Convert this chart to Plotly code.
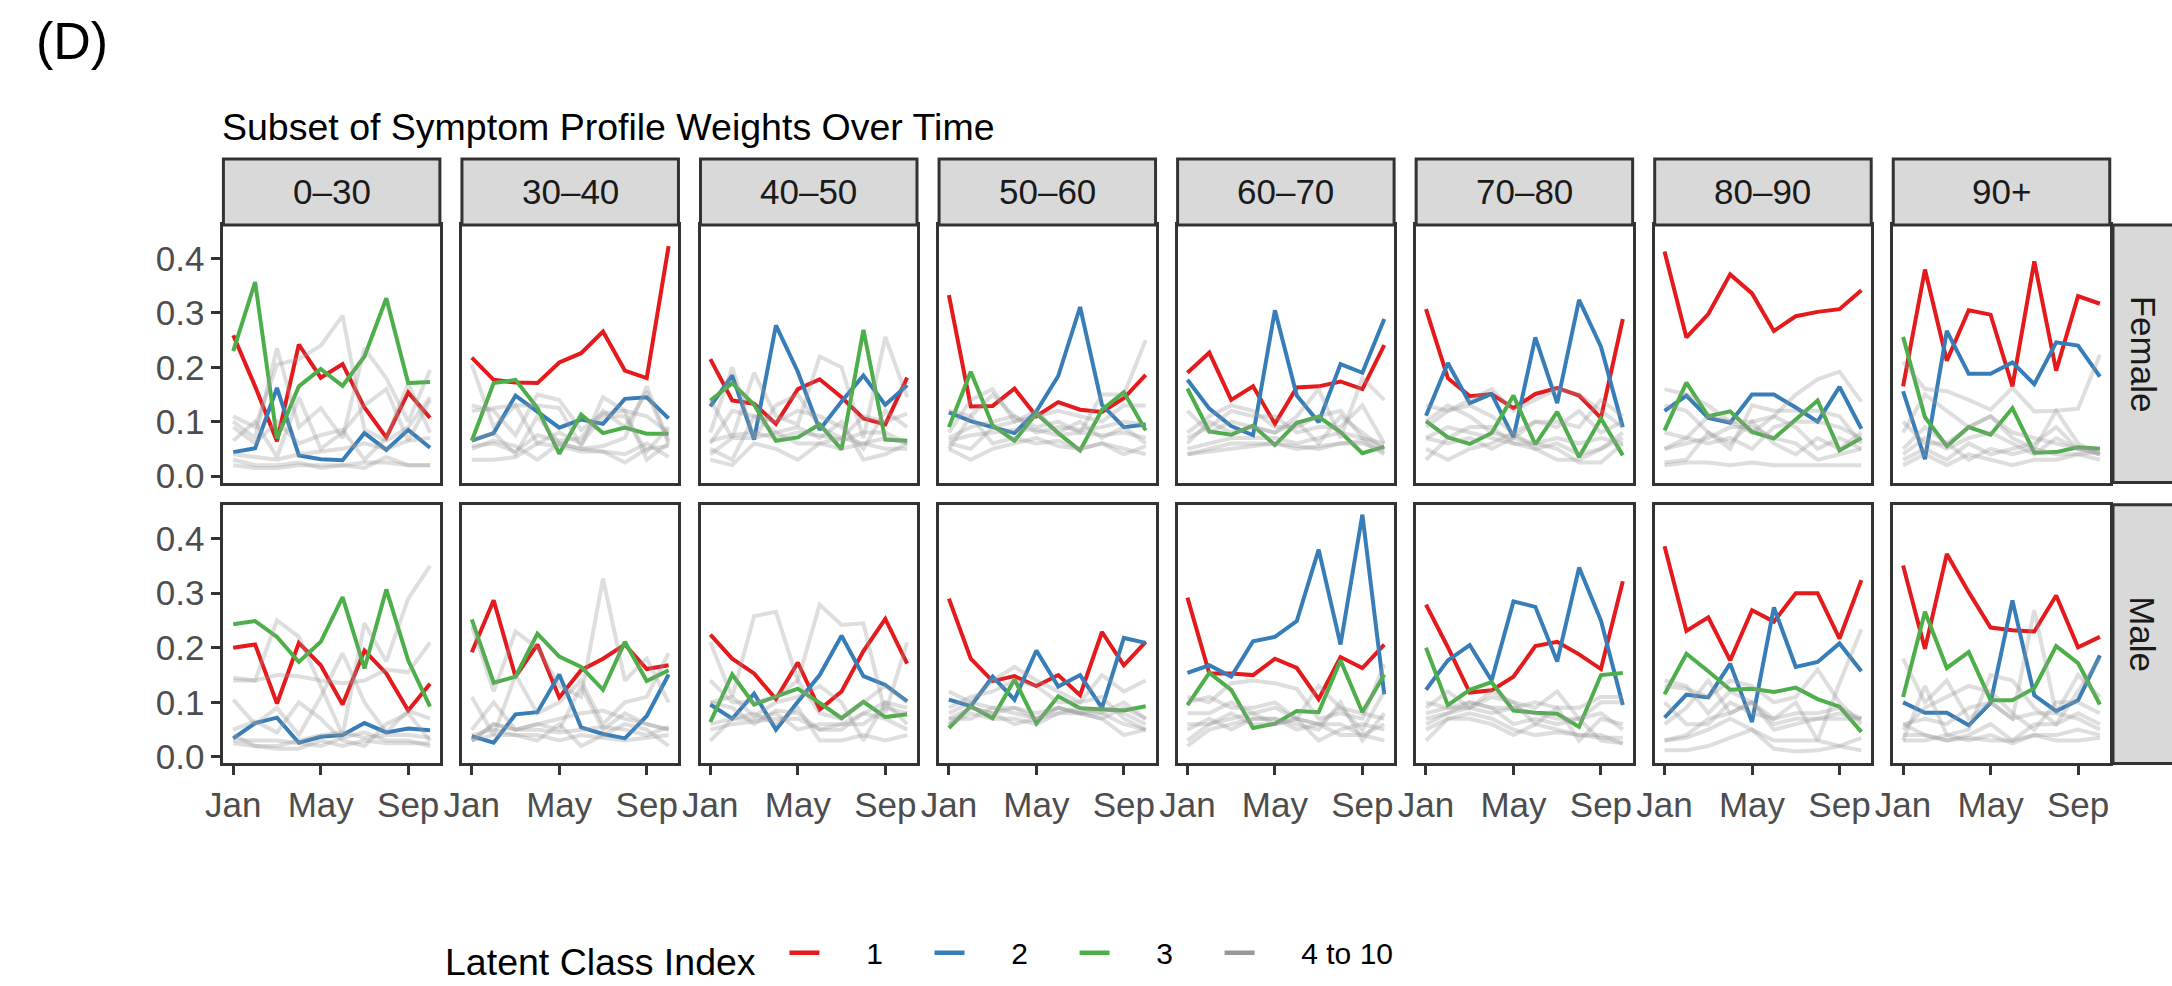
import plotly.graph_objects as go

# ---------------- data ----------------
months = list(range(10))            # Jan .. Oct
month_tickvals = [0, 4, 8]
month_ticktext = ["Jan", "May", "Sep"]
age_groups = ["0–30", "30–40", "40–50", "50–60", "60–70", "70–80", "80–90", "90+"]
sexes = ["Female", "Male"]
y_tickvals = [0.0, 0.1, 0.2, 0.3, 0.4]
legend_labels = ["1", "2", "3", "4 to 10"]

class1_female = [
    [0.259, 0.165, 0.064, 0.242, 0.181, 0.206, 0.126, 0.071, 0.154, 0.107],
    [0.218, 0.177, 0.172, 0.171, 0.209, 0.226, 0.266, 0.194, 0.180, 0.423],
    [0.215, 0.139, 0.133, 0.096, 0.160, 0.178, 0.145, 0.106, 0.095, 0.181],
    [0.333, 0.128, 0.129, 0.161, 0.110, 0.136, 0.122, 0.118, 0.143, 0.186],
    [0.190, 0.227, 0.140, 0.165, 0.096, 0.163, 0.165, 0.174, 0.160, 0.241],
    [0.307, 0.180, 0.147, 0.151, 0.125, 0.151, 0.162, 0.148, 0.107, 0.289],
    [0.413, 0.255, 0.298, 0.371, 0.336, 0.267, 0.294, 0.302, 0.307, 0.342],
    [0.165, 0.380, 0.212, 0.305, 0.297, 0.165, 0.395, 0.194, 0.331, 0.317],
]
class2_female = [
    [0.044, 0.051, 0.162, 0.038, 0.031, 0.029, 0.079, 0.048, 0.085, 0.052],
    [0.065, 0.079, 0.148, 0.119, 0.089, 0.104, 0.096, 0.142, 0.145, 0.106],
    [0.128, 0.185, 0.067, 0.277, 0.192, 0.085, 0.137, 0.185, 0.131, 0.167],
    [0.117, 0.101, 0.090, 0.079, 0.119, 0.184, 0.311, 0.131, 0.090, 0.095],
    [0.177, 0.124, 0.092, 0.075, 0.305, 0.148, 0.099, 0.206, 0.190, 0.289],
    [0.111, 0.208, 0.134, 0.151, 0.071, 0.255, 0.134, 0.324, 0.238, 0.090],
    [0.120, 0.148, 0.107, 0.098, 0.150, 0.150, 0.126, 0.100, 0.164, 0.087],
    [0.156, 0.031, 0.267, 0.188, 0.188, 0.209, 0.169, 0.246, 0.240, 0.183],
]
class3_female = [
    [0.230, 0.357, 0.069, 0.165, 0.197, 0.166, 0.220, 0.327, 0.171, 0.173],
    [0.065, 0.171, 0.177, 0.125, 0.041, 0.113, 0.079, 0.089, 0.078, 0.078],
    [0.139, 0.171, 0.131, 0.065, 0.071, 0.095, 0.049, 0.269, 0.067, 0.065],
    [0.090, 0.192, 0.093, 0.065, 0.115, 0.079, 0.047, 0.122, 0.154, 0.084],
    [0.161, 0.082, 0.076, 0.093, 0.057, 0.098, 0.109, 0.081, 0.042, 0.054],
    [0.101, 0.071, 0.059, 0.079, 0.148, 0.058, 0.118, 0.035, 0.106, 0.038],
    [0.084, 0.172, 0.110, 0.119, 0.081, 0.069, 0.104, 0.139, 0.047, 0.070],
    [0.256, 0.108, 0.055, 0.090, 0.076, 0.125, 0.043, 0.044, 0.053, 0.050],
]
class1_male = [
    [0.200, 0.206, 0.098, 0.209, 0.168, 0.096, 0.195, 0.153, 0.085, 0.134],
    [0.192, 0.287, 0.147, 0.206, 0.109, 0.159, 0.180, 0.206, 0.161, 0.168],
    [0.224, 0.180, 0.153, 0.106, 0.173, 0.087, 0.120, 0.194, 0.253, 0.171],
    [0.290, 0.180, 0.139, 0.148, 0.130, 0.150, 0.113, 0.229, 0.168, 0.211],
    [0.292, 0.153, 0.153, 0.150, 0.180, 0.163, 0.106, 0.183, 0.163, 0.206],
    [0.279, 0.201, 0.118, 0.122, 0.147, 0.203, 0.211, 0.188, 0.161, 0.322],
    [0.386, 0.231, 0.256, 0.177, 0.269, 0.248, 0.300, 0.300, 0.217, 0.324],
    [0.351, 0.198, 0.372, 0.302, 0.237, 0.232, 0.230, 0.296, 0.201, 0.220],
]
class2_male = [
    [0.034, 0.062, 0.072, 0.026, 0.037, 0.040, 0.062, 0.045, 0.052, 0.049],
    [0.038, 0.026, 0.078, 0.082, 0.151, 0.054, 0.042, 0.034, 0.075, 0.151],
    [0.096, 0.070, 0.116, 0.050, 0.101, 0.150, 0.222, 0.148, 0.132, 0.102],
    [0.105, 0.093, 0.147, 0.105, 0.195, 0.129, 0.150, 0.090, 0.218, 0.209],
    [0.154, 0.168, 0.147, 0.212, 0.220, 0.249, 0.380, 0.206, 0.444, 0.115],
    [0.123, 0.177, 0.205, 0.140, 0.285, 0.275, 0.175, 0.347, 0.250, 0.095],
    [0.072, 0.114, 0.109, 0.171, 0.064, 0.274, 0.165, 0.174, 0.208, 0.157],
    [0.100, 0.081, 0.081, 0.058, 0.099, 0.287, 0.113, 0.084, 0.104, 0.186],
]
class3_male = [
    [0.243, 0.249, 0.220, 0.174, 0.211, 0.293, 0.162, 0.307, 0.177, 0.092],
    [0.252, 0.136, 0.147, 0.226, 0.184, 0.165, 0.123, 0.211, 0.139, 0.159],
    [0.064, 0.151, 0.096, 0.110, 0.125, 0.099, 0.071, 0.101, 0.073, 0.078],
    [0.053, 0.093, 0.071, 0.142, 0.061, 0.111, 0.089, 0.087, 0.085, 0.093],
    [0.095, 0.154, 0.123, 0.053, 0.061, 0.084, 0.082, 0.177, 0.082, 0.151],
    [0.200, 0.095, 0.123, 0.137, 0.085, 0.081, 0.079, 0.055, 0.150, 0.154],
    [0.115, 0.189, 0.157, 0.123, 0.125, 0.119, 0.127, 0.106, 0.092, 0.046],
    [0.110, 0.266, 0.163, 0.192, 0.104, 0.104, 0.126, 0.203, 0.172, 0.096],
]

# classes 4..10, one list of 7 series per panel
others_female_0_30 = [
    [0.11, 0.09, 0.205, 0.215, 0.24, 0.295, 0.085, 0.065, 0.09, 0.145],
    [0.10, 0.07, 0.235, 0.09, 0.125, 0.07, 0.235, 0.18, 0.10, 0.195],
    [0.065, 0.10, 0.035, 0.145, 0.05, 0.08, 0.13, 0.16, 0.065, 0.14],
    [0.09, 0.06, 0.10, 0.06, 0.075, 0.085, 0.03, 0.07, 0.17, 0.08],
    [0.04, 0.035, 0.03, 0.04, 0.045, 0.05, 0.06, 0.05, 0.065, 0.07],
    [0.03, 0.02, 0.02, 0.025, 0.015, 0.02, 0.015, 0.035, 0.02, 0.02],
    [0.02, 0.015, 0.015, 0.02, 0.02, 0.02, 0.025, 0.025, 0.02, 0.02],
]
others_female_30_40 = [
    [0.205, 0.09, 0.13, 0.06, 0.08, 0.06, 0.11, 0.11, 0.045, 0.09],
    [0.13, 0.12, 0.075, 0.15, 0.14, 0.085, 0.115, 0.12, 0.03, 0.06],
    [0.12, 0.125, 0.13, 0.13, 0.125, 0.055, 0.145, 0.12, 0.11, 0.08],
    [0.065, 0.08, 0.04, 0.11, 0.06, 0.05, 0.055, 0.07, 0.165, 0.065],
    [0.055, 0.06, 0.045, 0.075, 0.065, 0.07, 0.12, 0.09, 0.155, 0.06],
    [0.03, 0.03, 0.035, 0.06, 0.055, 0.045, 0.045, 0.04, 0.06, 0.035],
    [0.05, 0.065, 0.055, 0.03, 0.06, 0.05, 0.045, 0.025, 0.05, 0.055],
]
others_female_40_50 = [
    [0.14, 0.07, 0.19, 0.11, 0.095, 0.22, 0.20, 0.07, 0.256, 0.145],
    [0.08, 0.20, 0.07, 0.13, 0.15, 0.09, 0.07, 0.11, 0.10, 0.115],
    [0.06, 0.12, 0.11, 0.10, 0.12, 0.11, 0.09, 0.05, 0.12, 0.09],
    [0.05, 0.03, 0.11, 0.08, 0.09, 0.07, 0.10, 0.03, 0.04, 0.06],
    [0.04, 0.07, 0.07, 0.08, 0.06, 0.06, 0.05, 0.06, 0.07, 0.06],
    [0.03, 0.02, 0.06, 0.05, 0.03, 0.06, 0.07, 0.06, 0.05, 0.05],
    [0.065, 0.075, 0.08, 0.07, 0.08, 0.075, 0.065, 0.08, 0.08, 0.06],
]
others_female_50_60 = [
    [0.12, 0.11, 0.15, 0.11, 0.09, 0.10, 0.08, 0.15, 0.15, 0.25],
    [0.08, 0.14, 0.16, 0.10, 0.11, 0.12, 0.11, 0.10, 0.13, 0.13],
    [0.06, 0.05, 0.09, 0.10, 0.12, 0.08, 0.10, 0.07, 0.09, 0.06],
    [0.07, 0.09, 0.10, 0.11, 0.08, 0.09, 0.085, 0.09, 0.10, 0.095],
    [0.05, 0.11, 0.06, 0.07, 0.06, 0.065, 0.05, 0.06, 0.04, 0.055],
    [0.05, 0.03, 0.05, 0.06, 0.07, 0.055, 0.05, 0.06, 0.05, 0.04],
    [0.065, 0.075, 0.08, 0.085, 0.085, 0.075, 0.08, 0.075, 0.08, 0.07],
]
others_female_60_70 = [
    [0.12, 0.08, 0.10, 0.09, 0.08, 0.11, 0.16, 0.07, 0.18, 0.14],
    [0.08, 0.11, 0.13, 0.12, 0.09, 0.09, 0.11, 0.12, 0.07, 0.06],
    [0.07, 0.09, 0.12, 0.11, 0.11, 0.08, 0.09, 0.09, 0.13, 0.06],
    [0.06, 0.10, 0.08, 0.09, 0.08, 0.10, 0.06, 0.11, 0.08, 0.05],
    [0.05, 0.06, 0.07, 0.07, 0.07, 0.06, 0.07, 0.08, 0.07, 0.05],
    [0.04, 0.05, 0.06, 0.06, 0.06, 0.055, 0.05, 0.06, 0.065, 0.04],
    [0.04, 0.045, 0.05, 0.055, 0.06, 0.05, 0.055, 0.06, 0.06, 0.045],
]
others_female_70_80 = [
    [0.13, 0.12, 0.14, 0.16, 0.12, 0.14, 0.16, 0.15, 0.12, 0.09],
    [0.09, 0.12, 0.13, 0.11, 0.08, 0.10, 0.09, 0.12, 0.08, 0.10],
    [0.10, 0.13, 0.11, 0.08, 0.07, 0.10, 0.10, 0.09, 0.14, 0.11],
    [0.07, 0.09, 0.08, 0.07, 0.06, 0.06, 0.07, 0.06, 0.07, 0.06],
    [0.03, 0.07, 0.09, 0.09, 0.06, 0.05, 0.06, 0.04, 0.05, 0.08],
    [0.05, 0.03, 0.05, 0.06, 0.08, 0.05, 0.03, 0.03, 0.05, 0.07],
    [0.07, 0.06, 0.07, 0.05, 0.07, 0.06, 0.05, 0.025, 0.025, 0.06],
]
others_female_80_90 = [
    [0.16, 0.15, 0.13, 0.10, 0.08, 0.11, 0.15, 0.178, 0.192, 0.137],
    [0.13, 0.12, 0.08, 0.05, 0.13, 0.12, 0.12, 0.12, 0.11, 0.06],
    [0.08, 0.07, 0.11, 0.10, 0.10, 0.11, 0.09, 0.05, 0.07, 0.05],
    [0.05, 0.07, 0.06, 0.07, 0.05, 0.09, 0.10, 0.10, 0.09, 0.07],
    [0.05, 0.06, 0.07, 0.09, 0.09, 0.07, 0.06, 0.03, 0.04, 0.05],
    [0.025, 0.03, 0.08, 0.06, 0.10, 0.06, 0.04, 0.07, 0.05, 0.08],
    [0.02, 0.025, 0.025, 0.02, 0.025, 0.02, 0.02, 0.02, 0.02, 0.02],
]
others_female_90 = [
    [0.21, 0.16, 0.156, 0.14, 0.122, 0.162, 0.119, 0.12, 0.124, 0.223],
    [0.08, 0.15, 0.12, 0.09, 0.11, 0.07, 0.05, 0.12, 0.06, 0.04],
    [0.10, 0.06, 0.06, 0.09, 0.11, 0.08, 0.07, 0.06, 0.05, 0.05],
    [0.04, 0.07, 0.05, 0.07, 0.08, 0.06, 0.04, 0.07, 0.05, 0.04],
    [0.03, 0.05, 0.03, 0.06, 0.04, 0.05, 0.06, 0.09, 0.05, 0.04],
    [0.02, 0.04, 0.02, 0.04, 0.03, 0.02, 0.03, 0.03, 0.04, 0.03],
    [0.05, 0.09, 0.06, 0.03, 0.05, 0.04, 0.05, 0.04, 0.04, 0.045],
]
others_male_0_30 = [
    [0.14, 0.14, 0.15, 0.148, 0.14, 0.135, 0.14, 0.16, 0.155, 0.21],
    [0.145, 0.14, 0.25, 0.22, 0.13, 0.04, 0.245, 0.175, 0.29, 0.35],
    [0.105, 0.06, 0.09, 0.04, 0.11, 0.19, 0.10, 0.045, 0.085, 0.07],
    [0.05, 0.065, 0.045, 0.10, 0.07, 0.03, 0.02, 0.06, 0.08, 0.03],
    [0.04, 0.02, 0.02, 0.03, 0.04, 0.045, 0.035, 0.04, 0.04, 0.035],
    [0.025, 0.02, 0.015, 0.015, 0.03, 0.02, 0.03, 0.025, 0.025, 0.025],
    [0.03, 0.03, 0.03, 0.025, 0.02, 0.035, 0.045, 0.03, 0.03, 0.02],
]
others_male_30_40 = [
    [0.24, 0.12, 0.23, 0.20, 0.13, 0.11, 0.327, 0.14, 0.18, 0.10],
    [0.11, 0.04, 0.15, 0.08, 0.10, 0.14, 0.06, 0.10, 0.11, 0.19],
    [0.05, 0.10, 0.05, 0.06, 0.05, 0.13, 0.05, 0.08, 0.06, 0.05],
    [0.03, 0.06, 0.05, 0.06, 0.07, 0.08, 0.085, 0.07, 0.06, 0.05],
    [0.04, 0.05, 0.04, 0.03, 0.06, 0.02, 0.04, 0.06, 0.05, 0.02],
    [0.03, 0.06, 0.05, 0.05, 0.045, 0.05, 0.055, 0.05, 0.04, 0.055],
    [0.03, 0.04, 0.04, 0.04, 0.03, 0.04, 0.035, 0.03, 0.035, 0.04],
]
others_male_40_50 = [
    [0.21, 0.11, 0.258, 0.266, 0.14, 0.08, 0.07, 0.10, 0.13, 0.10],
    [0.14, 0.10, 0.10, 0.11, 0.14, 0.279, 0.242, 0.245, 0.08, 0.21],
    [0.10, 0.11, 0.075, 0.10, 0.11, 0.13, 0.10, 0.03, 0.10, 0.09],
    [0.10, 0.09, 0.06, 0.085, 0.08, 0.05, 0.05, 0.08, 0.10, 0.06],
    [0.06, 0.07, 0.07, 0.08, 0.05, 0.06, 0.06, 0.06, 0.09, 0.08],
    [0.03, 0.07, 0.08, 0.06, 0.09, 0.03, 0.03, 0.04, 0.03, 0.04],
    [0.05, 0.06, 0.065, 0.07, 0.07, 0.05, 0.06, 0.08, 0.07, 0.05],
]
others_male_50_60 = [
    [0.12, 0.10, 0.14, 0.165, 0.14, 0.12, 0.10, 0.15, 0.12, 0.14],
    [0.09, 0.11, 0.12, 0.14, 0.13, 0.10, 0.10, 0.11, 0.07, 0.05],
    [0.07, 0.09, 0.08, 0.09, 0.07, 0.09, 0.08, 0.07, 0.04, 0.05],
    [0.06, 0.08, 0.07, 0.07, 0.06, 0.08, 0.09, 0.08, 0.06, 0.05],
    [0.07, 0.07, 0.09, 0.08, 0.07, 0.08, 0.08, 0.07, 0.09, 0.07],
    [0.08, 0.10, 0.09, 0.09, 0.08, 0.09, 0.08, 0.09, 0.08, 0.06],
    [0.06, 0.09, 0.08, 0.06, 0.07, 0.09, 0.08, 0.08, 0.10, 0.07],
]
others_male_60_70 = [
    [0.11, 0.10, 0.135, 0.14, 0.135, 0.125, 0.07, 0.08, 0.07, 0.17],
    [0.10, 0.11, 0.09, 0.09, 0.10, 0.07, 0.13, 0.09, 0.08, 0.07],
    [0.08, 0.08, 0.10, 0.08, 0.09, 0.07, 0.06, 0.09, 0.05, 0.12],
    [0.06, 0.06, 0.08, 0.06, 0.06, 0.07, 0.06, 0.06, 0.04, 0.06],
    [0.05, 0.07, 0.05, 0.07, 0.07, 0.06, 0.05, 0.10, 0.03, 0.08],
    [0.03, 0.06, 0.07, 0.08, 0.06, 0.07, 0.03, 0.05, 0.06, 0.05],
    [0.02, 0.05, 0.06, 0.07, 0.07, 0.05, 0.06, 0.04, 0.04, 0.03],
]
others_male_70_80 = [
    [0.09, 0.12, 0.09, 0.11, 0.10, 0.09, 0.12, 0.07, 0.10, 0.10],
    [0.10, 0.09, 0.10, 0.09, 0.09, 0.10, 0.09, 0.09, 0.11, 0.11],
    [0.08, 0.09, 0.09, 0.12, 0.10, 0.06, 0.09, 0.03, 0.07, 0.06],
    [0.07, 0.08, 0.10, 0.09, 0.06, 0.07, 0.06, 0.07, 0.08, 0.05],
    [0.03, 0.07, 0.08, 0.07, 0.05, 0.04, 0.045, 0.04, 0.04, 0.025],
    [0.05, 0.07, 0.07, 0.06, 0.04, 0.06, 0.05, 0.04, 0.035, 0.035],
    [0.06, 0.08, 0.09, 0.08, 0.09, 0.08, 0.07, 0.07, 0.03, 0.025],
]
others_male_80_90 = [
    [0.14, 0.13, 0.08, 0.12, 0.10, 0.07, 0.10, 0.03, 0.135, 0.234],
    [0.13, 0.125, 0.11, 0.14, 0.13, 0.10, 0.11, 0.16, 0.10, 0.06],
    [0.10, 0.06, 0.06, 0.10, 0.08, 0.07, 0.08, 0.08, 0.09, 0.07],
    [0.06, 0.09, 0.14, 0.08, 0.10, 0.05, 0.06, 0.07, 0.08, 0.07],
    [0.03, 0.04, 0.07, 0.08, 0.10, 0.06, 0.07, 0.07, 0.07, 0.07],
    [0.03, 0.035, 0.05, 0.07, 0.05, 0.03, 0.03, 0.03, 0.02, 0.035],
    [0.012, 0.012, 0.02, 0.035, 0.05, 0.015, 0.01, 0.012, 0.02, 0.012],
]
others_male_90 = [
    [0.18, 0.10, 0.14, 0.07, 0.10, 0.07, 0.269, 0.08, 0.15, 0.11],
    [0.03, 0.13, 0.04, 0.05, 0.15, 0.14, 0.09, 0.06, 0.12, 0.18],
    [0.05, 0.09, 0.11, 0.13, 0.12, 0.08, 0.05, 0.10, 0.10, 0.08],
    [0.06, 0.07, 0.06, 0.09, 0.10, 0.07, 0.08, 0.08, 0.07, 0.05],
    [0.06, 0.04, 0.03, 0.04, 0.06, 0.03, 0.06, 0.06, 0.08, 0.06],
    [0.03, 0.03, 0.04, 0.03, 0.04, 0.025, 0.04, 0.04, 0.05, 0.04],
    [0.04, 0.04, 0.03, 0.035, 0.03, 0.03, 0.04, 0.03, 0.03, 0.035],
]

others_female = [others_female_0_30, others_female_30_40, others_female_40_50, others_female_50_60,
                 others_female_60_70, others_female_70_80, others_female_80_90, others_female_90]
others_male = [others_male_0_30, others_male_30_40, others_male_40_50, others_male_50_60,
               others_male_60_70, others_male_70_80, others_male_80_90, others_male_90]

# ---------------- style / layout ----------------
W, H = 2172, 986
FONT = "Liberation Sans, Arial, Helvetica, sans-serif"
RED, BLUE, GREEN = "#E41A1C", "#377EB8", "#4DAF4A"
GRAY_LINE = "rgba(153,153,153,0.32)"
GRAY_KEY = "#999999"
FRAME = "#333333"
LW = 4.0
BW = 3.0

panel_left0, panel_step, panel_w = 223.4, 238.55, 216.5
row_px = [(227.0, 487.0), (509.5, 770.5)]
strip_top = 160.5


def fx(px):
    return px / W


def fy(py):
    return 1 - py / H


fig = go.Figure()
layout = dict(
    template="none",
    width=W, height=H, autosize=False, margin=dict(l=0, r=0, t=0, b=0, pad=0),
    paper_bgcolor="white", plot_bgcolor="white",
    font=dict(family=FONT, color="black"),
    showlegend=True, hovermode=False,
)

shapes, annotations = [], []
data_by_row = [
    (class1_female, class2_female, class3_female, others_female),
    (class1_male, class2_male, class3_male, others_male),
]

for r in range(2):
    c1, c2, c3, oth = data_by_row[r]
    top, bot = row_px[r]
    for c in range(8):
        idx = r * 8 + c + 1
        xa = "x" if idx == 1 else f"x{idx}"
        ya = "y" if idx == 1 else f"y{idx}"
        left = panel_left0 + panel_step * c
        right = left + panel_w
        layout["xaxis" if idx == 1 else f"xaxis{idx}"] = dict(
            domain=[fx(left), fx(right)], anchor=ya, range=[-0.45, 9.45], automargin=False,
            showgrid=False, zeroline=False, showline=True, mirror=True,
            linecolor=FRAME, linewidth=BW,
            tickvals=month_tickvals, ticktext=month_ticktext,
            ticks="outside" if r == 1 else "", ticklen=9, tickwidth=BW, tickcolor=FRAME,
            showticklabels=(r == 1),
            tickfont=dict(size=35, color="#4D4D4D", family=FONT),
        )
        layout["yaxis" if idx == 1 else f"yaxis{idx}"] = dict(
            domain=[fy(bot), fy(top)], anchor=xa, range=[-0.012, 0.462], automargin=False,
            showgrid=False, zeroline=False, showline=True, mirror=True,
            linecolor=FRAME, linewidth=BW,
            tickvals=y_tickvals, tickformat=".1f",
            ticks="outside" if c == 0 else "", ticklen=9, tickwidth=BW, tickcolor=FRAME,
            showticklabels=(c == 0),
            tickfont=dict(size=35, color="#4D4D4D", family=FONT),
        )
        for series, col in ((c1[c], RED), (c2[c], BLUE), (c3[c], GREEN)):
            fig.add_trace(go.Scatter(x=months, y=series, mode="lines", xaxis=xa, yaxis=ya,
                                     line=dict(color=col, width=LW), showlegend=False))
        for series in oth[c]:
            fig.add_trace(go.Scatter(x=months, y=series, mode="lines", xaxis=xa, yaxis=ya,
                                     line=dict(color=GRAY_LINE, width=LW), showlegend=False))
        if r == 0:
            shapes.append(dict(type="rect", xref="paper", yref="paper",
                               x0=fx(left), x1=fx(right), y0=fy(top), y1=fy(strip_top),
                               fillcolor="#D9D9D9", line=dict(color=FRAME, width=BW)))
            annotations.append(dict(text=age_groups[c], xref="paper", yref="paper",
                                    x=fx((left + right) / 2), y=fy((strip_top + top) / 2),
                                    showarrow=False, xanchor="center", yanchor="middle",
                                    font=dict(size=35, color="#1A1A1A", family=FONT)))
    # right strips
    shapes.append(dict(type="rect", xref="paper", yref="paper",
                       x0=fx(2113), x1=fx(2200), y0=fy(bot), y1=fy(top),
                       fillcolor="#D9D9D9", line=dict(color=FRAME, width=BW)))
    annotations.append(dict(text=sexes[r], xref="paper", yref="paper",
                            x=fx(2143), y=fy((top + bot) / 2), textangle=90,
                            showarrow=False, xanchor="center", yanchor="middle",
                            font=dict(size=35, color="#1A1A1A", family=FONT)))

# legend entries (padding with no-break spaces to mimic ggplot key spacing)
NB = "\u00a0"
for i, (lab, col) in enumerate(zip(legend_labels, [RED, BLUE, GREEN, GRAY_KEY])):
    trail = NB * 5 if i < len(legend_labels) - 1 else ""
    fig.add_trace(go.Scatter(x=[None], y=[None], mode="lines", name=NB * 5 + lab + trail,
                             line=dict(color=col, width=4.5), showlegend=True))

annotations.append(dict(text="Subset of Symptom Profile Weights Over Time", xref="paper", yref="paper",
                        x=fx(220), y=fy(128), xanchor="left", yanchor="middle", showarrow=False,
                        font=dict(size=37.5, color="black", family=FONT)))
annotations.append(dict(text="(D)", xref="paper", yref="paper",
                        x=fx(34), y=fy(41), xanchor="left", yanchor="middle", showarrow=False,
                        font=dict(size=52, color="black", family=FONT)))

layout["shapes"] = shapes
layout["annotations"] = annotations
layout["legend"] = dict(
    orientation="h", x=fx(443), y=fy(965), xanchor="left", yanchor="middle",
    title=dict(text="Latent Class Index" + NB * 2, side="left", font=dict(size=37.5, family=FONT)),
    font=dict(size=30, family=FONT), bgcolor="rgba(0,0,0,0)",
)
fig.update_layout(**layout)
fig.write_html("out.html")
